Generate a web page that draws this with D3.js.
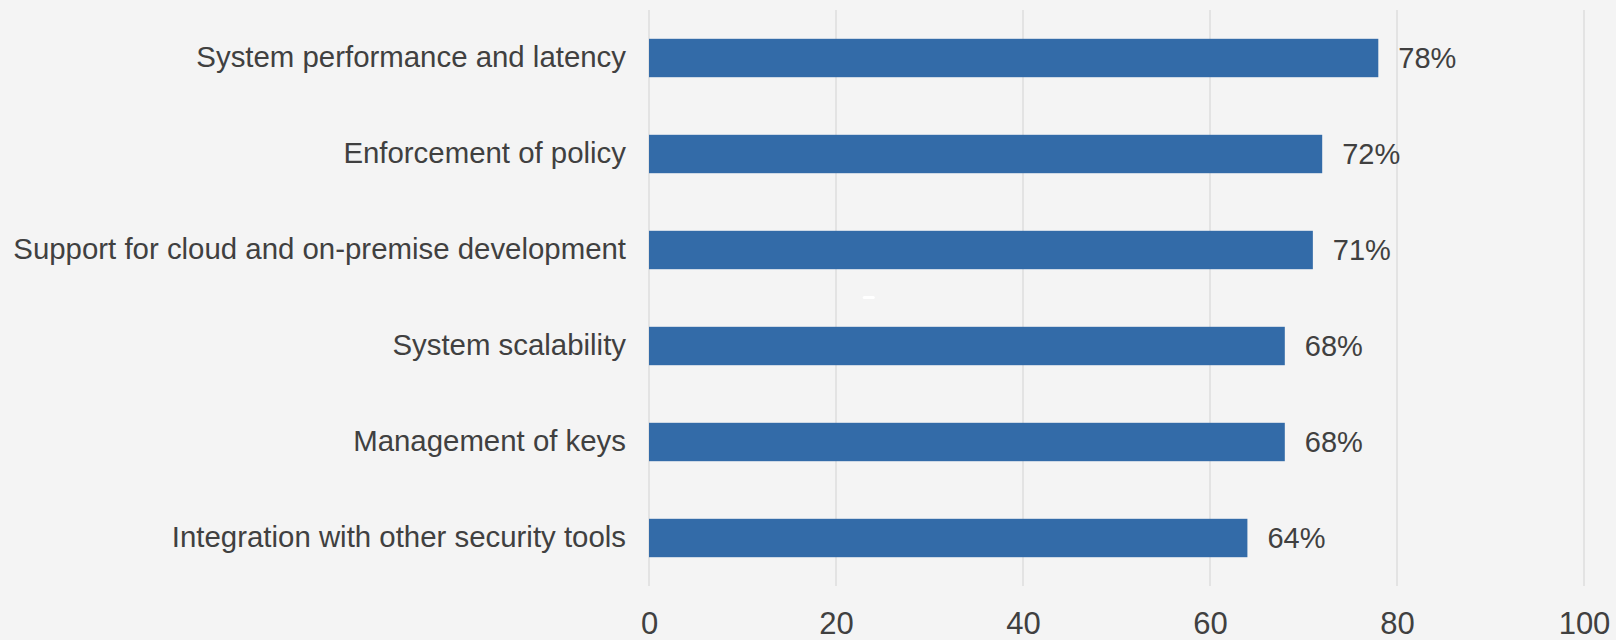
<!DOCTYPE html>
<html>
<head>
<meta charset="utf-8">
<script src="https://cdn.jsdelivr.net/npm/d3@7"></script>
<style>
  html, body { margin: 0; padding: 0; background: #f4f4f4; }
  svg { display: block; font-family: "Liberation Sans", Arial, sans-serif; }
</style>
</head>
<body>
<div id="chart"></div>
<script>
// Chart data.
const categories = [
    "System performance and latency",
    "Enforcement of policy",
    "Support for cloud and on-premise development",
    "System scalability",
    "Management of keys",
    "Integration with other security tools"
];
const values = [78, 72, 71, 68, 68, 64];
const tickValues = [0, 20, 40, 60, 80, 100];

// Size of the page and the plot area.
let width = 1616,
    height = 640,
    margin = { top: 10, right: 32, bottom: 54, left: 649 };

let svg = d3.select("#chart").append("svg")
    .attr("width", width)
    .attr("height", height);

svg.append("rect")
    .attr("width", width)
    .attr("height", height)
    .attr("fill", "#f4f4f4");

// Scales.
let x = d3.scaleLinear()
    .domain([0, 100])
    .range([margin.left, width - margin.right]);

let y = d3.scaleBand()
    .domain(categories)
    .range([margin.top, height - margin.bottom])
    .paddingInner(0.6)
    .paddingOuter(0.3);

// Vertical grid lines.
svg.append("g")
    .selectAll("line")
    .data(tickValues)
    .enter().append("line")
    .attr("x1", d => x(d))
    .attr("x2", d => x(d))
    .attr("y1", margin.top)
    .attr("y2", height - margin.bottom)
    .attr("stroke", "#dedede")
    .attr("stroke-width", 1.5);

// Bottom axis, only the labels are shown.
let xAxis = svg.append("g")
    .attr("transform", "translate(0," + (height - margin.bottom) + ")")
    .call(d3.axisBottom(x).tickValues(tickValues).tickSize(0).tickPadding(26));
xAxis.select(".domain").remove();
xAxis.selectAll("text")
    .attr("fill", "#404040")
    .style("font-size", "31px")
    .style("font-family", "'Liberation Sans', Arial, sans-serif");

// Category labels on the left.
let yAxis = svg.append("g")
    .attr("transform", "translate(" + margin.left + ",0)")
    .call(d3.axisLeft(y).tickSize(0).tickPadding(23));
yAxis.select(".domain").remove();
yAxis.selectAll("text")
    .attr("fill", "#404040")
    .style("font-size", "29.4px")
    .style("font-family", "'Liberation Sans', Arial, sans-serif");

// Bars.
svg.append("g")
    .selectAll("rect")
    .data(values)
    .enter().append("rect")
    .attr("x", x(0))
    .attr("y", (d, i) => y(categories[i]))
    .attr("width", d => x(d) - x(0))
    .attr("height", y.bandwidth())
    .attr("fill", "#336ba8");

// Value labels.
svg.append("g")
    .selectAll("text")
    .data(values)
    .enter().append("text")
    .attr("x", d => x(d) + 20)
    .attr("y", (d, i) => y(categories[i]) + y.bandwidth() / 2)
    .attr("dy", "0.35em")
    .attr("fill", "#404040")
    .style("font-size", "29px")
    .text(d => d + "%");

// Small white mark left in the plot area.
svg.append("rect")
    .attr("x", x(23.5) - 6)
    .attr("y", 296)
    .attr("width", 12)
    .attr("height", 3)
    .attr("rx", 1.5)
    .attr("fill", "#ffffff");
</script>
</body>
</html>
